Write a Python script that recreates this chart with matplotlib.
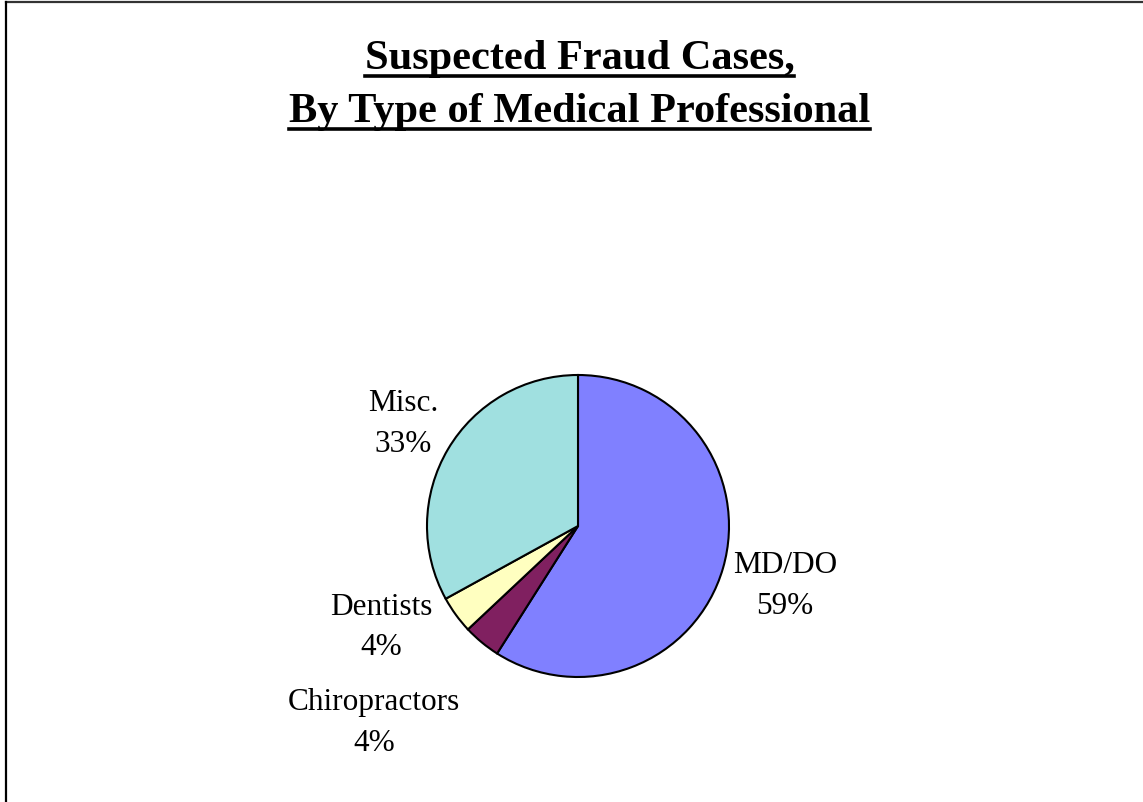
import matplotlib
matplotlib.use("Agg")
import matplotlib.pyplot as plt
from matplotlib.lines import Line2D

# Data
categories = ["MD/DO", "Chiropractors", "Dentists", "Misc."]
shares = [59, 4, 4, 33]
colors = ["#8080FF", "#802060", "#FFFFC0", "#A0E0E0"]

# label placement in pixels: (x centre, baseline of name, baseline of percent)
label_px = [(785, 573, 614), (374, 710, 751), (381, 615, 655), (403, 411, 452)]

plt.rcParams['font.family'] = ['Liberation Serif', 'DejaVu Serif']

W, H = 1143, 803
fig = plt.figure(figsize=(W / 100, H / 100), dpi=100)
cx, cy, r = 578, 527, 151
ax = fig.add_axes([0, 0, 1, 1])
ax.axis("off")

ax.pie(shares, colors=colors, startangle=90, counterclock=False, radius=1,
       wedgeprops=dict(edgecolor="black", linewidth=1.5))
ax.set_xlim(-cx / r, (W - cx) / r)
ax.set_ylim(-(H - cy) / r, cy / r)
ax.set_aspect("auto")

for name, val, (lx, b1, b2) in zip(categories, shares, label_px):
    fig.text(lx / W, 1 - b1 / H, name, ha="center", va="baseline", fontsize=22.5)
    fig.text(lx / W, 1 - b2 / H, f"{val}%", ha="center", va="baseline", fontsize=22.5)

# Title with underline
titles = ["Suspected Fraud Cases,", "By Type of Medical Professional"]
baselines = [69, 122]
fig.canvas.draw()
renderer = fig.canvas.get_renderer()
for t, b in zip(titles, baselines):
    txt = fig.text(0.507, 1 - b / H, t, ha="center", va="baseline",
                   fontsize=30.5, fontweight="bold")
    bb = txt.get_window_extent(renderer)
    uy = 1 - (b + 8) / H
    fig.add_artist(Line2D([bb.x0 / W, bb.x1 / W], [uy, uy], color="black",
                          linewidth=2.6, transform=fig.transFigure))

# Frame (top and left edges)
fig.add_artist(Line2D([6 / W, 1], [1 - 3 / H, 1 - 3 / H], color="#333333",
                      linewidth=1.6, transform=fig.transFigure))
fig.add_artist(Line2D([6 / W, 6 / W], [0, 1 - 3 / H], color="black",
                      linewidth=1.6, transform=fig.transFigure))

fig.savefig("out.png", dpi=100)
